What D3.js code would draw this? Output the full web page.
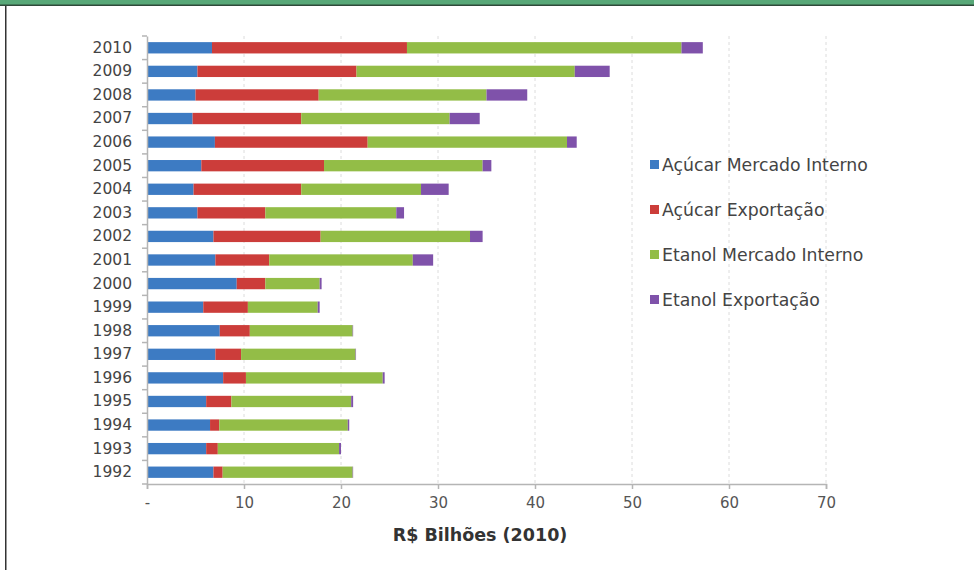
<!DOCTYPE html>
<html>
<head>
<meta charset="utf-8">
<script src="https://cdn.jsdelivr.net/npm/d3@7"></script>
<style>
	body { margin: 0; background: #fff; }
	svg { display: block; font-family: "DejaVu Sans", sans-serif; }
</style>
</head>
<body>
<svg id="chart" width="974" height="570"></svg>
<script>
// anos, de cima para baixo
var years = ["2010", "2009", "2008", "2007", "2006", "2005", "2004", "2003", "2002", "2001",
	"2000", "1999", "1998", "1997", "1996", "1995", "1994", "1993", "1992"];

var seriesNames = ["Açúcar Mercado Interno", "Açúcar Exportação", "Etanol Mercado Interno", "Etanol Exportação"];

// R$ bilhões (2010)
var acucarInterno = [6.7, 5.2, 5.0, 4.7, 7.0, 5.6, 4.8, 5.2, 6.85, 7.05, 9.25, 5.8, 7.5, 7.05, 7.85, 6.1, 6.5, 6.1, 6.85];
var acucarExport  = [20.1, 16.4, 12.7, 11.2, 15.75, 12.65, 11.1, 7.0, 11.05, 5.55, 2.95, 4.6, 3.1, 2.65, 2.35, 2.6, 0.95, 1.2, 0.95];
var etanolInterno = [28.3, 22.5, 17.3, 15.3, 20.55, 16.35, 12.35, 13.5, 15.4, 14.8, 5.6, 7.2, 10.6, 11.8, 14.1, 12.35, 13.25, 12.5, 13.4];
var etanolExport  = [2.2, 3.6, 4.2, 3.1, 1.0, 0.9, 2.85, 0.8, 1.3, 2.1, 0.2, 0.2, 0.05, 0.05, 0.2, 0.2, 0.15, 0.2, 0.05];

var xTicks = [0, 10, 20, 30, 40, 50, 60, 70];

var colors = ["#3d7bc3", "#cc3d3a", "#93bd47", "#7f52aa"];

var svg = d3.select("#chart");

// moldura verde em cima e borda à esquerda
svg.append("rect").attr("x", 0).attr("y", 0).attr("width", 974).attr("height", 5).attr("fill", "#58a878");
svg.append("rect").attr("x", 0).attr("y", 4.5).attr("width", 974).attr("height", 1.5).attr("fill", "#2f4a3a");
svg.append("rect").attr("x", 5).attr("y", 6).attr("width", 1.5).attr("height", 564).attr("fill", "#333");

var MARGINS = { top: 36, left: 147, right: 826, bottom: 484 };

var xScale = d3.scaleLinear().domain([0, 70]).range([MARGINS.left, MARGINS.right]);
var yScale = d3.scaleBand().domain(years).range([MARGINS.top, MARGINS.bottom]).paddingInner(0.52).paddingOuter(0.26);

// linhas de grade tracejadas
svg.append("g").selectAll("line")
	.data(xTicks.slice(1))
	.join("line")
	.attr("x1", function(d) { return xScale(d); })
	.attr("x2", function(d) { return xScale(d); })
	.attr("y1", MARGINS.top)
	.attr("y2", MARGINS.bottom)
	.attr("stroke", "#dcdcdc")
	.attr("stroke-width", 1)
	.attr("stroke-dasharray", "3,3");

var rows = years.map(function(y, i) {
	return { year: y, v: [acucarInterno[i], acucarExport[i], etanolInterno[i], etanolExport[i]] };
});

var stack = d3.stack().keys([0, 1, 2, 3]).value(function(d, k) { return d.v[k]; });
var layers = stack(rows);

svg.append("g").selectAll("g")
	.data(layers)
	.join("g")
	.attr("fill", function(d, i) { return colors[i]; })
	.selectAll("rect")
	.data(function(d) { return d; })
	.join("rect")
	.attr("x", function(d) { return xScale(d[0]); })
	.attr("width", function(d) { return Math.max(0, xScale(d[1]) - xScale(d[0])); })
	.attr("y", function(d) { return yScale(d.data.year); })
	.attr("height", yScale.bandwidth());

// eixo x
var xAxis = d3.axisBottom(xScale)
	.tickValues(xTicks)
	.tickSize(5)
	.tickPadding(8)
	.tickFormat(function(d) { return d === 0 ? "-" : d; });

var gx = svg.append("g")
	.attr("transform", "translate(0," + MARGINS.bottom + ")")
	.call(xAxis);
gx.select(".domain").attr("stroke", "#b5b5b5").attr("stroke-width", 1.5);
gx.selectAll(".tick line").attr("stroke", "#b5b5b5").attr("stroke-width", 1.5);
gx.selectAll(".tick text").attr("fill", "#555").style("font-size", "15px").style("font-family", "DejaVu Sans, sans-serif");

// eixo y
var yAxis = d3.axisLeft(yScale).tickSize(0).tickPadding(15);
var gy = svg.append("g")
	.attr("transform", "translate(" + MARGINS.left + ",0)")
	.call(yAxis);
gy.select(".domain").attr("stroke", "#b5b5b5").attr("stroke-width", 1.5);
gy.selectAll(".tick text").attr("fill", "#444").style("font-size", "15.5px").style("font-family", "DejaVu Sans, sans-serif");

// marcas entre as categorias
var step = yScale.step();
var boundaries = d3.range(years.length + 1).map(function(i) { return MARGINS.top + i * step; });
svg.append("g").selectAll("line")
	.data(boundaries)
	.join("line")
	.attr("x1", MARGINS.left - 5)
	.attr("x2", MARGINS.left)
	.attr("y1", function(d) { return d; })
	.attr("y2", function(d) { return d; })
	.attr("stroke", "#b5b5b5")
	.attr("stroke-width", 1.5);

// título do eixo
svg.append("text")
	.attr("x", 480)
	.attr("y", 541)
	.attr("text-anchor", "middle")
	.attr("fill", "#333")
	.style("font-size", "17.5px")
	.style("font-weight", "bold")
	.text("R$ Bilhões (2010)");

// legenda
var legend = svg.append("g").attr("transform", "translate(650,165)");
var item = legend.selectAll("g")
	.data(seriesNames)
	.join("g")
	.attr("transform", function(d, i) { return "translate(0," + (i * 45) + ")"; });
item.append("rect")
	.attr("x", 0).attr("y", -5).attr("width", 9).attr("height", 9)
	.attr("fill", function(d, i) { return colors[i]; });
item.append("text")
	.attr("x", 12)
	.attr("y", 0)
	.attr("dy", "0.35em")
	.attr("fill", "#444")
	.style("font-size", "17.3px")
	.text(function(d) { return d; });
</script>
</body>
</html>
